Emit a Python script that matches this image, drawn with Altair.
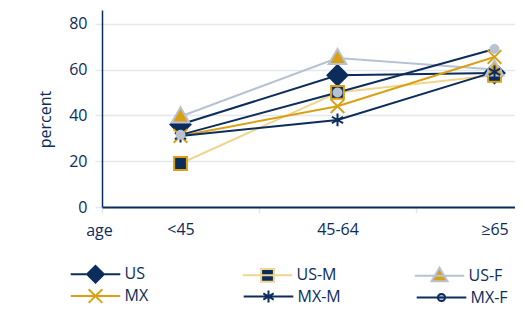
import altair as alt
import pandas as pd

ages = ["<45", "45-64", "≥65"]
series = ["US", "US-M", "US-F", "MX", "MX-M", "MX-F"]
us = [36, 57.5, 58.5]
us_m = [19, 50, 57.5]
us_f = [39.5, 65, 60]
mx = [31, 44, 65.5]
mx_m = [31, 38, 59]
mx_f = [31.5, 50, 69]
values = [us, us_m, us_f, mx, mx_m, mx_f]

NAVY = "#0c2c5c"
GOLD = "#d9a014"
LGOLD = "#f0d58e"
GREY = "#b7c2d2"
GRID = "#e3e7ee"

line_colors = [NAVY, LGOLD, GREY, GOLD, NAVY, NAVY]
fill_colors = [NAVY, NAVY, GOLD, GOLD, NAVY, GREY]
stroke_colors = [NAVY, GOLD, GREY, GOLD, NAVY, GREY]
legend_stroke = [NAVY, "#e2b850", GREY, GOLD, NAVY, NAVY]

point_paths = [
    "M0,-1.25L1.25,0L0,1.25L-1.25,0Z",
    "M-0.8,-0.8H0.8V0.8H-0.8Z",
    "M0,-1.15L1.1,0.75H-1.1Z",
    "M-0.85,-0.85L0.85,0.85M-0.85,0.85L0.85,-0.85",
    "M0,-0.8V0.8M-0.7,-0.4L0.7,0.4M-0.7,0.4L0.7,-0.4",
    "M-0.5,0A0.5,0.5,0,1,0,0.5,0A0.5,0.5,0,1,0,-0.5,0Z",
]
LINE = "M-3.1,0L3.1,0"
legend_paths = [
    LINE + "M0,-1.05L1.05,0L0,1.05L-1.05,0Z",
    LINE + "M-0.8,-0.8L0.8,-0.8L0.8,0.8L-0.8,0.8Z",
    LINE + "M0,-1L1,0.7L-1,0.7Z",
    LINE + "M-0.85,-0.85L0.85,0.85M-0.85,0.85L0.85,-0.85",
    LINE + "M0,-0.75L0,0.75M-0.65,-0.38L0.65,0.38M-0.65,0.38L0.65,-0.38",
    LINE + "M-0.45,0A0.45,0.45,0,1,0,0.45,0A0.45,0.45,0,1,0,-0.45,0Z",
]

rows = []
for s, vals in zip(series, values):
    for a, v in zip(ages, vals):
        rows.append({"series": s, "age": a, "value": v})
df = pd.DataFrame(rows)


def expr(lst):
    out = "'" + lst[-1] + "'"
    for s, p in reversed(list(zip(series[:-1], lst[:-1]))):
        out = "datum.value === '" + s + "' ? '" + p + "' : " + out
    return out


x_enc = alt.X(
    "age:N", sort=ages,
    scale=alt.Scale(type="band", domain=ages, range=[0, 471], paddingInner=0, paddingOuter=0),
    axis=alt.Axis(title="age", tickBand="extent", labelAngle=0, grid=False,
                  domainColor=NAVY, domainWidth=2, tickColor=GRID, tickWidth=1.5, tickSize=6,
                  labelPadding=8, titleX=-3, titleY=23, titleAlign="center", titleBaseline="middle"),
)
y_enc = alt.Y(
    "value:Q",
    scale=alt.Scale(domain=[0, 86], nice=False),
    axis=alt.Axis(title="percent", values=[0, 20, 40, 60, 80], grid=True, gridColor=GRID, gridWidth=1.5,
                  domainColor=NAVY, domainWidth=1.5, tickColor=GRID, tickWidth=1.5, tickSize=7,
                  labelPadding=8, offset=0, titleX=-57, titleY=109, titleAlign="center",
                  titleBaseline="middle", titleAngle=270),
)


def make_legend(vals, lx, ly, colpad):
    return alt.Legend(
        title=None, orient="none", legendX=lx, legendY=ly, direction="horizontal", columns=3,
        values=vals, gridAlign="all", columnPadding=colpad, rowPadding=0, padding=0,
        symbolSize=256, symbolStrokeWidth=2, labelOffset=20, symbolOpacity=1,
        symbolType=alt.ExprRef(expr=expr(legend_paths)),
        symbolFillColor=alt.ExprRef(expr=expr(fill_colors)),
        symbolStrokeColor=alt.ExprRef(expr=expr(legend_stroke)),
    )


color_scale = alt.Scale(domain=series, range=line_colors)

lines = alt.Chart(df).mark_line(strokeWidth=2).encode(
    x=x_enc, y=y_enc,
    color=alt.Color("series:N", scale=color_scale,
                    legend=make_legend(series[:3], -15.5, 255, 74)),
)
lines_b = alt.Chart(df).mark_line(strokeWidth=2, opacity=0).encode(
    x=x_enc, y=y_enc,
    color=alt.Color("series:N", scale=color_scale,
                    legend=make_legend(series[3:], -15.5, 277, 71)),
)

point_layers = []
for s, p, f, st in zip(series, point_paths, fill_colors, stroke_colors):
    point_layers.append(
        alt.Chart(df).transform_filter(alt.datum.series == s).mark_point(
            shape=p, fill=f, stroke=st, filled=False, opacity=1, fillOpacity=1,
            strokeWidth=2, size=256,
        ).encode(x=x_enc, y=y_enc)
    )

chart = alt.layer(lines, lines_b, *point_layers).resolve_scale(
    color="independent"
).resolve_legend(color="independent").properties(
    width=413, height=197,
    autosize=alt.AutoSizeParams(type="none"),
    padding={"left": 94, "top": 2, "right": 0, "bottom": 98},
    background="white",
).configure_view(stroke=None).configure_axis(
    labelFont="Open Sans", titleFont="Open Sans", labelFontSize=16, titleFontSize=16,
    labelColor=NAVY, titleColor=NAVY, titleFontWeight="normal",
).configure_legend(
    labelFont="Open Sans", labelFontSize=16, labelColor=NAVY,
)

chart.save("out.html", embed_options={"renderer": "svg", "actions": False})
